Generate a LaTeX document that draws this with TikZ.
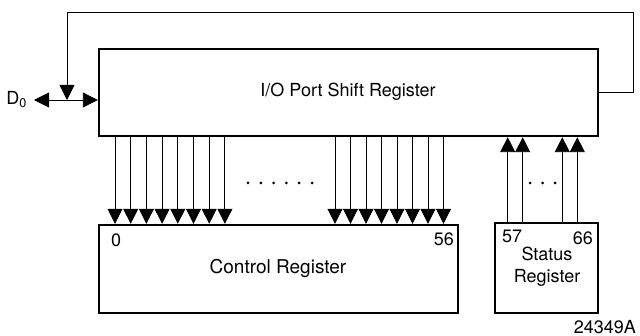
\documentclass[tikz,border=0pt]{standalone}
\usepackage{fontspec}
\setmainfont{TeX Gyre Heros}
\usetikzlibrary{positioning,arrows.meta}

\tikzset{
  regbox/.style={draw, line width=2.4pt, inner sep=0pt},
  wire/.style={line width=0.9pt},
  arr/.style={wire, -{Triangle[length=15pt,width=15pt]}},
  lbl/.style={font=\fontsize{18}{20}\selectfont, inner sep=0pt},
}

\begin{document}
\begin{tikzpicture}[x=1pt,y=-1pt]
\useasboundingbox (0,0) rectangle (640,336);

\node[regbox, minimum width=499pt, minimum height=87pt] (shift) at (348.5,92.5) {};
\node[regbox, minimum width=359pt, minimum height=88pt] (ctrl) at (278.5,269) {};
\node[regbox, minimum width=103pt, minimum height=90pt] (stat) at (546.5,268) {};

\node[lbl] at (348,92) {I/O Port Shift Register};
\node[lbl, font=\fontsize{19}{21}\selectfont] at (278,268) {Control Register};
\node[lbl] at (547,254) {Status};
\node[lbl] at (547,278) {Register};

\node[lbl, anchor=north west] at (111,234) {0};
\node[lbl, anchor=north east] at (454,233) {56};
\node[lbl, anchor=north west] at (502,230) {57};
\node[lbl, anchor=north east] at (593,232) {66};
\node[lbl, anchor=east] at (636,327) {24349A};

% Rueckkopplung
\coordinate (fb) at (67,100);
\coordinate (dtip) at (34,100);
\node[lbl, anchor=east] (dout) at (27,100) {D\textsubscript{0}};
\draw[arr] (shift.east |- 0,92) -- (633,92) -- (633,12) -- (67,12) -- (fb);
\draw[arr] (fb) -- (dtip);
\draw[arr] (fb) -- (shift.west |- fb);

% Bus nach unten
\foreach \i in {0,...,7} {
  \draw[arr] ({115+15.7*\i},0 |- shift.south) -- ({115+15.7*\i},0 |- ctrl.north);
  \draw[arr] ({335+15.5*\i},0 |- shift.south) -- ({335+15.5*\i},0 |- ctrl.north);
}
\foreach \i in {0,...,5}
  \fill ({248+12.8*\i},183) circle (1.5pt);

% Status nach oben
\foreach \x in {507.7,522.7,562.3,577.3}
  \draw[arr] (\x,0 |- stat.north) -- (\x,0 |- shift.south);
\foreach \x in {530,542.5,555}
  \fill (\x,183) circle (1.5pt);

\end{tikzpicture}
\end{document}
